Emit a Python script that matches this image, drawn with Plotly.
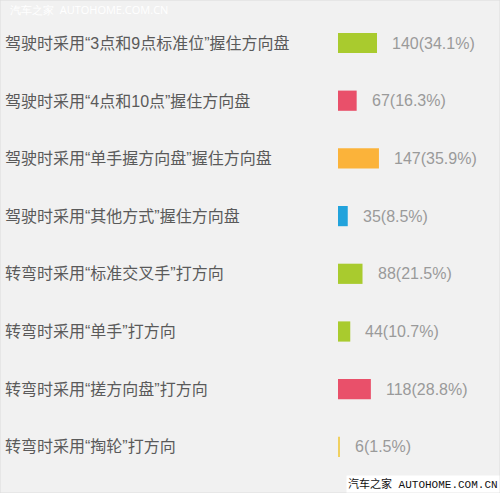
import plotly.graph_objects as go

## Data

labels = ["驾驶时采用“3点和9点标准位”握住方向盘",
          "驾驶时采用“4点和10点”握住方向盘",
          "驾驶时采用“单手握方向盘”握住方向盘",
          "驾驶时采用“其他方式”握住方向盘",
          "转弯时采用“标准交叉手”打方向",
          "转弯时采用“单手”打方向",
          "转弯时采用“搓方向盘”打方向",
          "转弯时采用“掏轮”打方向"]
counts = [140, 67, 147, 35, 88, 44, 118, 6]
percents = [34.1, 16.3, 35.9, 8.5, 21.5, 10.7, 28.8, 1.5]
bar_colors = ["#a9cb2e", "#e9506a", "#fbb33a", "#22a3dc",
              "#a9cb2e", "#a9cb2e", "#e9506a", "#f0d060"]

## Plotting

W, H = 500, 493
y = list(range(len(labels)))

fig = go.Figure()
fig.add_trace(go.Bar(x=counts, y=y, orientation="h",
                     width=0.35,
                     marker=dict(color=bar_colors, line=dict(width=0)),
                     hoverinfo="skip", showlegend=False))

for i, lab in enumerate(labels):
    fig.add_annotation(x=3 / W, xref="paper", y=y[i], yref="y",
                       text=lab, showarrow=False, xanchor="left",
                       font=dict(size=16, color="#5a5a5a",
                                 family="Liberation Sans, Noto Sans CJK SC"))
    fig.add_annotation(x=counts[i], xref="x", y=y[i], yref="y",
                       text="{}({}%)".format(counts[i], percents[i]),
                       showarrow=False, xanchor="left", xshift=13,
                       font=dict(size=16, color="#9a9a9a",
                                 family="Liberation Sans"))

# watermarks
fig.add_annotation(x=8 / W, xref="paper", y=1, yref="paper", yanchor="top",
                   text="汽车之家  AUTOHOME.COM.CN", showarrow=False,
                   xanchor="left", font=dict(size=11, color="#ffffff"))
fig.add_annotation(x=1, xref="paper", y=0, yref="paper", yanchor="bottom",
                   xanchor="right", text="汽车之家 AUTOHOME.COM.CN",
                   showarrow=False, bgcolor="#ffffff", borderpad=1,
                   font=dict(size=11, color="#111111",
                             family="Liberation Mono, Noto Sans CJK SC"))

px_per_unit = 39 / 140
x0 = 338
fig.update_xaxes(domain=[x0 / W, 1], range=[0, (W - x0) / px_per_unit],
                 visible=False, fixedrange=True)
row0, step = 43, 57.7
fig.update_yaxes(range=[(H - row0) / step, -row0 / step],
                 visible=False, fixedrange=True)
fig.update_layout(width=W, height=H,
                  margin=dict(l=0, r=0, t=0, b=0),
                  paper_bgcolor="#f1f1f1", plot_bgcolor="rgba(0,0,0,0)",
                  shapes=[dict(type="rect", xref="paper", yref="paper",
                               x0=0, y0=0, x1=1, y1=1,
                               line=dict(color="#dcdcdc", width=1))])
fig.write_html("out.html", config={"displayModeBar": False},
               post_script="document.body.style.margin='0';")
